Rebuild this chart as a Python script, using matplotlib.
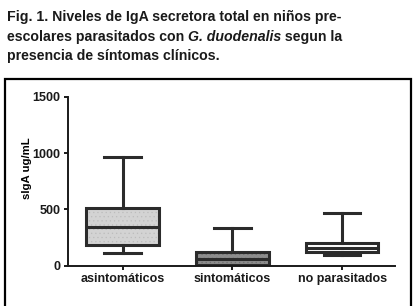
import matplotlib
matplotlib.use("Agg")
import matplotlib.pyplot as plt
from matplotlib.patches import Rectangle
from matplotlib.colors import to_rgba

# ─────────────────────────────────────────────
# DATOS
# ─────────────────────────────────────────────
GRUPOS = ["asintomáticos", "sintomáticos", "no parasitados"]
MINIMO = [115, 0, 98]
Q1 = [184, 6, 119]
MEDIANA = [346, 57, 161]
Q3 = [509, 124, 204]
MAXIMO = [965, 335, 466]
RELLENOS = ["#d3d3d3", "#8c8c8c", "#ffffff"]
PUNTOS = ["#bcbcbc", "#707070", None]

YTICKS = [0, 500, 1000, 1500]

plt.rcParams["font.family"] = ["Liberation Sans", "DejaVu Sans"]
plt.rcParams["font.weight"] = "bold"
plt.rcParams["hatch.linewidth"] = 0.4

fig = plt.figure(figsize=(4.14, 3.06), dpi=100)
ax = fig.add_axes([0.1635, 0.1317, 0.954 - 0.1635, 0.684 - 0.1317])

stats = []
for g, lo, q1, me, q3, hi in zip(GRUPOS, MINIMO, Q1, MEDIANA, Q3, MAXIMO):
    stats.append({"label": g, "whislo": lo, "q1": q1, "med": me,
                  "q3": q3, "whishi": hi, "fliers": []})

lw = 2.2
col = "#2b2b2b"
bp = ax.bxp(stats, positions=range(len(GRUPOS)), widths=0.66,
            patch_artist=True, showfliers=False,
            boxprops=dict(linewidth=lw, edgecolor=col),
            medianprops=dict(linewidth=lw, color=col),
            whiskerprops=dict(linewidth=lw, color=col),
            capprops=dict(linewidth=lw, color=col),
            capwidths=0.33)
for caja, c, p in zip(bp["boxes"], RELLENOS, PUNTOS):
    caja.set_facecolor(c)
    if p is not None:
        # textura de puntos tenue
        caja.set_hatch("....")
        caja._hatch_color = to_rgba(p)

ax.set_xlim(-0.5, 2.48)
ax.set_ylim(0, 1500)
ax.set_yticks(YTICKS)
ax.set_yticklabels([str(v) for v in YTICKS], fontsize=9, fontweight="bold")
ax.set_xticks(range(len(GRUPOS)))
ax.set_xticklabels(GRUPOS, fontsize=9, fontweight="bold")
ax.set_ylabel("sIgA ug/mL", fontsize=8.2, fontweight="bold")
ax.yaxis.set_label_coords(-0.11, 0.575)
ax.spines["top"].set_visible(False)
ax.spines["right"].set_visible(False)
for s in ["left", "bottom"]:
    ax.spines[s].set_linewidth(1.4)
    ax.spines[s].set_color("#1a1a1a")
ax.tick_params(length=3, width=1.4, pad=2, colors="#1a1a1a")

# marco alrededor del gráfico (sin borde inferior visible)
fig.add_artist(Rectangle((4.7 / 414, -0.02), (411 - 4.7) / 414, 1 - 79 / 306 + 0.02,
                         transform=fig.transFigure, fill=False,
                         linewidth=1.6, edgecolor="black"))

# título con parte en cursiva
fs = 10.2
x0 = 7 / 414
fig.text(x0, 1 - 17 / 306, "Fig. 1. Niveles de IgA secretora total en niños pre-",
         fontsize=fs, fontweight="bold", va="center", color="#1a1a1a")
fig.canvas.draw()
r = fig.canvas.get_renderer()
y2 = 1 - 37 / 306
x = x0
for txt, st in [("escolares parasitados con ", "normal"),
                ("G. duodenalis", "italic"),
                (" segun la", "normal")]:
    t = fig.text(x, y2, txt, fontsize=fs, fontweight="bold", style=st,
                 va="center", color="#1a1a1a")
    bb = t.get_window_extent(renderer=r)
    x = bb.x1 / fig.bbox.width
fig.text(x0, 1 - 56 / 306, "presencia de síntomas clínicos.",
         fontsize=fs, fontweight="bold", va="center", color="#1a1a1a")

fig.savefig("out.png", dpi=100)
